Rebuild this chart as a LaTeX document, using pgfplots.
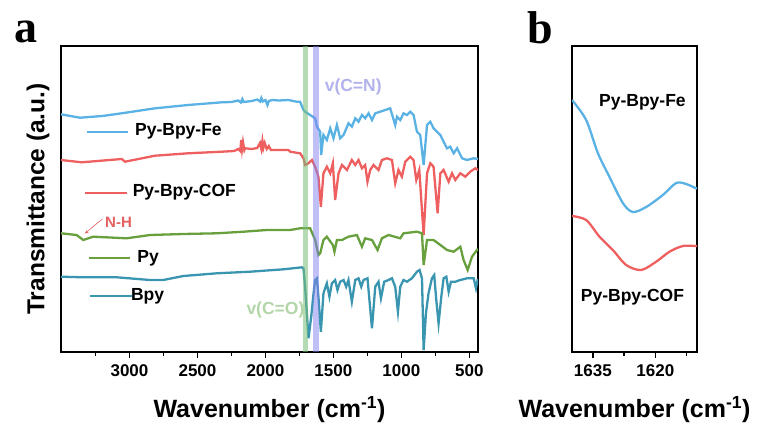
\documentclass[border=0pt]{standalone}
\usepackage{pgfplots}
\pgfplotsset{compat=1.18}
\usepackage{fontspec}
\setmainfont{Liberation Sans}
\newfontfamily\serifb{Liberation Serif}
\definecolor{cfe}{RGB}{90,178,228}
\definecolor{ccof}{RGB}{238,96,96}
\definecolor{cpy}{RGB}{105,160,62}
\definecolor{cbpy}{RGB}{58,150,176}
\definecolor{bandg}{RGB}{120,190,120}
\definecolor{bandb}{RGB}{130,130,240}
\definecolor{tcn}{RGB}{178,178,236}
\definecolor{tco}{RGB}{178,214,168}
\definecolor{tnh}{RGB}{228,96,96}
\begin{document}
\begin{tikzpicture}
\path[use as bounding box] (0,0) rectangle (757pt,429pt);
\pgfplotsset{
  myax/.style={
    scale only axis, anchor=south west,
    axis line style={line width=2pt},
    x dir=reverse, ymin=0, ymax=306,
    ytick=\empty,
    xtick pos=bottom, tick align=outside,
    major tick length=6pt, minor tick length=4pt,
    every tick/.style={line width=1.6pt, black},
    ticklabel style={font=\bfseries\fontsize{17}{17}\selectfont},
    xticklabel style={yshift=-3pt},
    /pgf/number format/assume math mode=true,
    /pgf/number format/1000 sep={},
    xlabel style={font=\bfseries\fontsize{25}{25}\selectfont, yshift=-13pt},
    clip=true,
  }
}
% ---------- panel a ----------
\begin{axis}[myax, at={(61pt,77pt)}, width=417pt, height=306pt,
  xmin=436, xmax=3504,
  xtick={500,1000,1500,2000,2500,3000},
  minor xtick={750,1250,1750,2250,2750,3250},
  xlabel={Wavenumber (cm\textsuperscript{-1})},
  ylabel={Transmittance (a.u.)},
  ylabel style={font=\bfseries\fontsize{24.5}{24.5}\selectfont, yshift=2pt},
]
% Py-Bpy-Fe
\addplot[cfe, line width=2.3pt] coordinates {
(3504,237.7) (3365,234.3) (3200,236) (3057,238.7) (2812,243.7) (2569,247) (2321,249.7)
(2250,250) (2200,251.5) (2180,249.5) (2170,253) (2160,250) (2100,251) (2060,252.5)
(2040,250.5) (2030,254) (2020,250.5) (2000,252) (1985,247) (1975,251) (1950,252)
(1900,251.5) (1831,252) (1769,250.3) (1745,250.3) (1720,242) (1708,240.3) (1671,237)
(1634,233.7) (1621,225.3) (1597,220.3) (1590,197) (1573,217) (1548,212) (1523,223.7)
(1499,213.7) (1474,227) (1450,213.7) (1425,217) (1389,228.7) (1364,225.3) (1339,233.7)
(1315,230.3) (1290,237) (1266,233.7) (1241,238.7) (1216,232) (1192,238.7) (1155,240.3)
(1118,242) (1082,243.7) (1045,227) (1032,235.3) (1008,232) (984,238.7) (959,237)
(934,240.3) (910,237) (885,220.3) (861,217) (836,187) (811,227) (787,230.3) (763,223.7)
(738,220.3) (713,217) (689,210.3) (664,203.7) (640,205.3) (615,198.7) (590,203.7)
(553,193.7) (517,192) (468,193.7) (436,193)
};
% Py-Bpy-COF
\addplot[ccof, line width=2.3pt] coordinates {
(3504,192) (3352,189.7) (3057,193) (3033,190.3) (2812,196.3) (2569,198.7) (2321,200.3)
(2230,201) (2200,203) (2185,201) (2178,212) (2172,203) (2165,210) (2155,202) (2150,203.7)
(2100,203) (2060,204) (2040,209) (2030,203) (2022,211) (2015,204) (2005,209) (1990,203)
(1975,206) (1960,202) (1831,202) (1818,200.3) (1745,198.7) (1720,193.7) (1708,187)
(1683,188.7) (1658,192) (1634,185.3) (1610,175.3) (1592,145.3) (1573,178.7) (1548,185.3)
(1523,178.7) (1504,188.7) (1487,152) (1462,178.7) (1437,187) (1400,182) (1364,192)
(1339,187) (1315,192) (1290,183.7) (1266,187) (1249,170.3) (1229,182) (1205,187)
(1168,182) (1143,192) (1106,193.7) (1069,192) (1045,168.7) (1021,182) (996,175.3)
(971,190.3) (934,195.3) (910,192) (890,172) (868,182) (836,117) (811,178.7) (787,188.7)
(763,185.3) (733,138.7) (713,178.7) (689,182) (652,170.3) (627,178.7) (603,172)
(566,178.7) (529,175.3) (493,180.3) (456,183.7) (436,182)
};
% Py
\addplot[cpy, line width=2.3pt] coordinates {
(3504,118.7) (3389,117) (3340,112) (3267,115.3) (3021,113.7) (2849,117) (2604,118)
(2358,118.7) (2162,120.3) (1990,122) (1818,122) (1745,123.7) (1671,123.7) (1634,112)
(1610,97) (1597,98.7) (1573,112) (1548,115.3) (1504,107) (1492,100.3) (1474,112)
(1437,112) (1389,115.3) (1327,117) (1290,105.3) (1266,113.7) (1216,112) (1175,102)
(1143,113.7) (1094,117) (1008,113.7) (984,118.7) (885,120.3) (848,118.7) (836,87)
(811,112) (763,112) (713,107) (664,102) (615,100.3) (566,105.3) (542,92) (512,82)
(480,95.3) (443,102) (436,103)
};
% Bpy
\addplot[cbpy, line width=2.3pt] coordinates {
(3504,75.3) (3340,74.7) (3094,74.7) (2849,72) (2751,72) (2604,76) (2358,78.7)
(2113,80.3) (1867,82.7) (1732,84.7) (1720,83.7) (1708,65.3) (1683,13.7) (1663,35.3)
(1646,58.7) (1634,72) (1621,73.7) (1610,55.3) (1592,20.3) (1573,58.7) (1548,68.7)
(1529,55.3) (1511,68.7) (1487,72) (1470,62) (1450,70.3) (1425,72) (1406,65.3)
(1389,72) (1364,50.3) (1339,72) (1315,73.7) (1295,65.3) (1278,72) (1249,73.7)
(1216,23.7) (1192,65.3) (1168,70.3) (1150,53.7) (1126,70.3) (1094,72) (1069,73.7)
(1045,65.3) (1025,40.3) (1008,65.3) (984,72) (959,70.3) (922,73.7) (885,80.3) (866,82)
(848,73.7) (836,2) (819,38.7) (800,58.7) (775,73.7) (758,77) (743,52) (726,28.7)
(706,55.3) (689,73.7) (669,75.3) (652,60.3) (635,70.3) (603,70.3) (566,72) (517,73.7)
(468,73.7) (451,63.7) (439,72) (436,72)
};
% bands
\fill[bandg, opacity=0.55] (axis cs:1727,0) rectangle (axis cs:1690,306);
\fill[bandb, opacity=0.5] (axis cs:1647,0) rectangle (axis cs:1607,306);
% legend-like labels
\draw[cfe, line width=2pt] (axis cs:3315,220.3) -- (axis cs:3009,220.3);
\node[anchor=west, font=\bfseries\fontsize{17.5}{17.5}\selectfont, inner sep=0pt] at (axis cs:2960,220.3) {Py-Bpy-Fe};
\draw[ccof, line width=2pt] (axis cs:3328,159.3) -- (axis cs:3021,159.3);
\node[anchor=west, font=\bfseries\fontsize{17.5}{17.5}\selectfont, inner sep=0pt] at (axis cs:2977,159.3) {Py-Bpy-COF};
\draw[cpy, line width=2pt] (axis cs:3296,93.7) -- (axis cs:2996,93.7);
\node[anchor=west, font=\bfseries\fontsize{17.5}{17.5}\selectfont, inner sep=0pt] at (axis cs:2943,93.7) {Py};
\draw[cbpy, line width=2pt] (axis cs:3291,56) -- (axis cs:2984,56);
\node[anchor=west, font=\bfseries\fontsize{17.5}{17.5}\selectfont, inner sep=0pt] at (axis cs:2990,56) {Bpy};
% annotations
\draw[tnh, line width=0.6pt, -stealth] (axis cs:3200,133) -- (axis cs:3328,118.5);
\node[anchor=west, text=tnh, font=\bfseries\fontsize{15}{15}\selectfont, inner sep=0pt] at (axis cs:3180,129.3) {N-H};
\node[text=tcn, font=\bfseries\fontsize{17.5}{17.5}\selectfont, inner sep=0pt] at (axis cs:1354,265.3) {v(C=N)};
\node[anchor=east, text=tco, font=\bfseries\fontsize{17.5}{17.5}\selectfont, inner sep=0pt] at (axis cs:1712,42) {v(C=O)};
\end{axis}
% ---------- panel b ----------
\begin{axis}[myax, at={(572pt,77pt)}, width=125pt, height=306pt,
  xmin=1610, xmax=1640,
  xtick={1620,1635}, minor xtick={1612.5,1627.5},
  xlabel={Wavenumber (cm\textsuperscript{-1})},
  ylabel={},
]
\addplot[cfe, line width=2.3pt, smooth] coordinates {
(1640,252) (1636.6,232) (1633.8,199) (1631,175) (1627.8,149) (1625.4,140) (1622.2,145)
(1618.2,157) (1615,169) (1612.6,168) (1610.4,164) (1610,163.5)
};
\addplot[ccof, line width=2.3pt, smooth] coordinates {
(1640,136) (1636.6,132) (1633.4,115.3) (1630.2,102) (1627,87) (1623.4,82) (1619.8,90.3)
(1616.6,100.3) (1613.4,106) (1610.4,106) (1610,106)
};
\node[font=\bfseries\fontsize{17.5}{17.5}\selectfont, inner sep=0pt] at (axis cs:1623.1,250) {Py-Bpy-Fe};
\node[font=\bfseries\fontsize{17.5}{17.5}\selectfont, inner sep=0pt] at (axis cs:1625.5,55) {Py-Bpy-COF};
\end{axis}
\node[font=\serifb\bfseries\fontsize{46}{46}\selectfont, inner sep=0pt] at (26pt,397pt) {a};
\node[font=\serifb\bfseries\fontsize{46}{46}\selectfont, inner sep=0pt] at (540pt,401pt) {b};
\end{tikzpicture}
\end{document}
